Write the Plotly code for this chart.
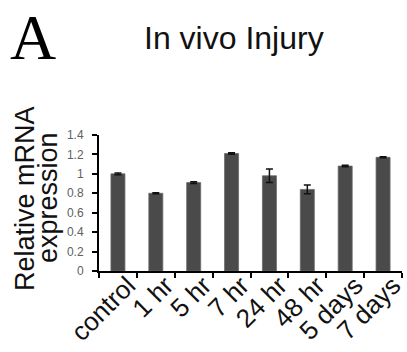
import plotly.graph_objects as go

# Relative mRNA expression after in vivo injury
categories = ["control", "1 hr", "5 hr", "7 hr", "24 hr", "48 hr", "5 days", "7 days"]
expression = [1.00, 0.80, 0.91, 1.21, 0.98, 0.84, 1.08, 1.17]
errors = [0.008, 0.005, 0.008, 0.008, 0.07, 0.045, 0.008, 0.005]
y_ticks = [0, 0.2, 0.4, 0.6, 0.8, 1.0, 1.2, 1.4]
y_tick_text = ["0", "0.2", "0.4", "0.6", "0.8", "1", "1.2", "1.4"]

W, H = 407, 352
L, R, T, B = 99, 5, 135, 81
pw, ph = W - L - R, H - T - B


def px_x(x):
    return (x - L) / pw


def px_y(y):
    return (H - B - y) / ph


font_family = "Liberation Sans, Arial, sans-serif"

fig = go.Figure(
    go.Bar(
        x=categories,
        y=expression,
        width=0.37,
        marker=dict(color="#4a4a4a", line=dict(color="#6a6a6a", width=0.8)),
        error_y=dict(type="data", array=errors, visible=True,
                     color="#111111", thickness=1.5, width=3.5),
    )
)

fig.update_layout(
    width=W, height=H,
    margin=dict(l=L, r=R, t=T, b=B, pad=0),
    plot_bgcolor="white", paper_bgcolor="white",
    showlegend=False,
    annotations=[
        dict(text="A", x=px_x(33), y=px_y(0), xref="paper", yref="paper",
             showarrow=False, xanchor="center", yanchor="top",
             font=dict(family="Liberation Serif, Times New Roman, serif", size=64, color="black")),
        dict(text="In vivo Injury", x=px_x(234), y=px_y(38), xref="paper", yref="paper",
             showarrow=False, xanchor="center", yanchor="middle",
             font=dict(family=font_family, size=32, color="#111111")),
        dict(text="Relative mRNA", x=px_x(25), y=px_y(199), xref="paper", yref="paper",
             showarrow=False, xanchor="center", yanchor="middle", textangle=-90,
             font=dict(family=font_family, size=27, color="#111111")),
        dict(text="expression", x=px_x(48), y=px_y(198), xref="paper", yref="paper",
             showarrow=False, xanchor="center", yanchor="middle", textangle=-90,
             font=dict(family=font_family, size=27, color="#111111")),
    ],
)

fig.update_xaxes(
    type="category",
    showline=True, linecolor="black", linewidth=2,
    ticks="outside", tickson="boundaries", ticklen=5, tickwidth=1.5, tickcolor="black",
    tickangle=-45,
    ticklabelstandoff=-13, ticklabelshift=10,
    tickfont=dict(family=font_family, size=26, color="#111111"),
    showgrid=False, zeroline=False, automargin=False,
)

fig.update_yaxes(
    range=[0, 1.4],
    tickvals=y_ticks, ticktext=y_tick_text,
    showline=True, linecolor="black", linewidth=2,
    ticks="outside", ticklen=5, tickwidth=1.5, tickcolor="black",
    ticklabelstandoff=6,
    tickfont=dict(family=font_family, size=12, color="#606060"),
    showgrid=False, zeroline=False, automargin=False,
)

fig.write_html("out.html")
